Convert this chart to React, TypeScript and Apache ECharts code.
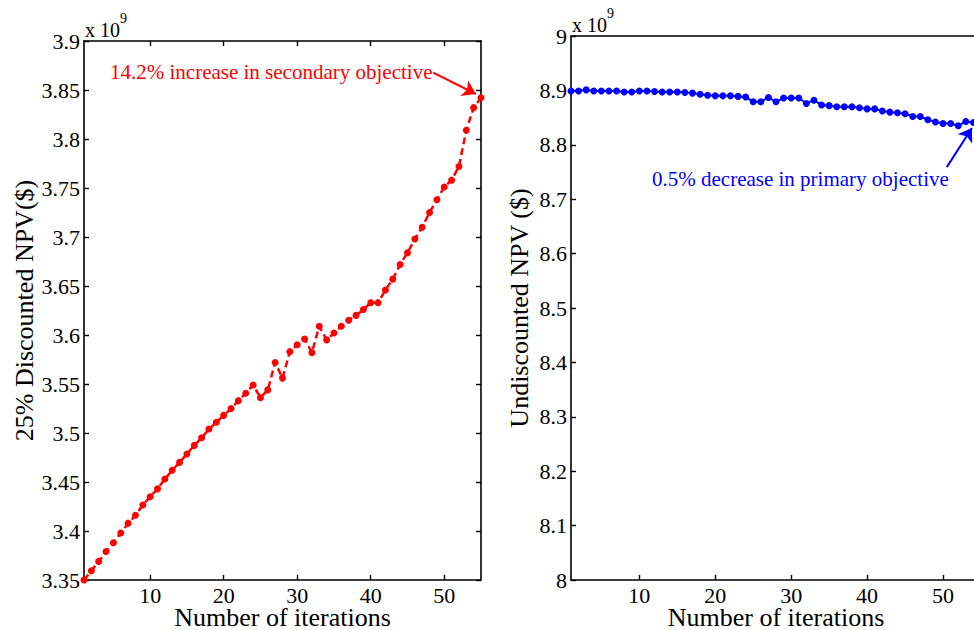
import React, { useEffect, useRef } from "react";
import * as echarts from "echarts";

// Iteration numbers (x)
const iterations = [
  1, 2, 3, 4, 5, 6, 7, 8, 9, 10, 11, 12, 13, 14, 15, 16, 17, 18, 19, 20,
  21, 22, 23, 24, 25, 26, 27, 28, 29, 30, 31, 32, 33, 34, 35, 36, 37, 38, 39, 40,
  41, 42, 43, 44, 45, 46, 47, 48, 49, 50, 51, 52, 53, 54, 55,
];

// 25% discounted NPV (x 10^9 $)
const discountedNPV = [
  3.35, 3.3595, 3.369, 3.379, 3.388, 3.398, 3.408, 3.416, 3.4265, 3.435,
  3.443, 3.453, 3.462, 3.47, 3.4786, 3.4874, 3.4952, 3.504, 3.511, 3.518,
  3.525, 3.533, 3.5405, 3.549, 3.536, 3.544, 3.572, 3.556, 3.583, 3.59,
  3.596, 3.582, 3.609, 3.595, 3.602, 3.609, 3.615, 3.62, 3.626, 3.633,
  3.633, 3.646, 3.657, 3.672, 3.684, 3.698, 3.71, 3.725, 3.738, 3.751,
  3.758, 3.772, 3.809, 3.832, 3.842,
];

// Undiscounted NPV (x 10^9 $)
const undiscountedNPV = [
  8.899, 8.899, 8.901, 8.899, 8.899, 8.899, 8.899, 8.897, 8.897, 8.899,
  8.899, 8.898, 8.897, 8.897, 8.897, 8.896, 8.895, 8.893, 8.891, 8.89,
  8.89, 8.89, 8.889, 8.888, 8.879, 8.879, 8.887, 8.879, 8.886, 8.886,
  8.886, 8.876, 8.882, 8.873, 8.872, 8.87, 8.87, 8.87, 8.868, 8.866,
  8.866, 8.862, 8.86, 8.859, 8.857, 8.852, 8.852, 8.846, 8.842, 8.839,
  8.839, 8.835, 8.843, 8.841, 8.84,
];

const xTicks = [10, 20, 30, 40, 50];

// Annotation arrows in data coordinates [x, y]
const leftArrow = [[48.5, 3.8677], [54.3, 3.8459]];
const rightArrow = [[50.5, 8.759], [53.8, 8.831]];

const FONT = "'Liberation Serif', 'Times New Roman', serif";
const RED = "#ff0000";
const BLUE = "#0000ff";

export default function App() {
  const ref = useRef<HTMLDivElement>(null);

  useEffect(() => {
    if (!ref.current) return;
    const chart = echarts.init(ref.current, undefined, { renderer: "svg" });

    const fmt = (v: number) => String(parseFloat(v.toFixed(2)));
    const axisLine = { show: true, lineStyle: { color: "#000", width: 1.6 } };
    const tick = (show = true) => ({
      show,
      inside: true,
      length: 5,
      customValues: xTicks,
      lineStyle: { color: "#000", width: 1.4 },
    });
    const yTick = { show: true, inside: true, length: 5, lineStyle: { color: "#000", width: 1.4 } };
    const labelStyle = { color: "#000", fontFamily: FONT, fontSize: 22 };
    const nameStyle = { color: "#000", fontFamily: FONT, fontSize: 26 };

    const leftPts = iterations.map((x, i) => [x, discountedNPV[i]]);
    const rightPts = iterations.map((x, i) => [x, undiscountedNPV[i]]);

    const arrowMark = (color: string, pts: number[][]) => ({
      silent: true,
      symbol: ["none", "arrow"],
      symbolSize: 13,
      lineStyle: { color, width: 2, type: "solid" },
      itemStyle: { color },
      label: { show: false },
      data: [[{ coord: pts[0] }, { coord: pts[1] }]],
    });

    const xBottom = (gridIndex: number) => ({
      gridIndex, type: "value", min: 1, max: 55, position: "bottom",
      axisLine, axisTick: tick(), splitLine: { show: false },
      axisLabel: { ...labelStyle, lineHeight: 20, margin: 5, customValues: xTicks },
      name: "Number of iterations", nameLocation: "middle", nameGap: 26,
      nameMoveOverlap: false,
      nameTextStyle: { ...nameStyle, lineHeight: 22 },
    });

    chart.setOption({
      animation: false,
      backgroundColor: "#fff",
      grid: [
        { left: 84, top: 41, width: 397, height: 539, outerBoundsMode: "none", containLabel: false },
        { left: 571, top: 36, width: 410, height: 544, outerBoundsMode: "none", containLabel: false },
      ],
      xAxis: [
        xBottom(0),
        {
          gridIndex: 0, type: "value", min: 1, max: 55, position: "top",
          axisLine, axisTick: tick(), splitLine: { show: false },
          axisLabel: { show: false },
        },
        xBottom(1),
        {
          gridIndex: 1, type: "value", min: 1, max: 55, position: "top",
          axisLine, axisTick: { show: false }, splitLine: { show: false },
          axisLabel: { show: false },
        },
      ],
      yAxis: [
        {
          gridIndex: 0, type: "value", min: 3.35, max: 3.9, interval: 0.05, position: "left",
          axisLine, axisTick: yTick, splitLine: { show: false },
          axisLabel: { ...labelStyle, margin: 4, formatter: fmt },
          name: "25% Discounted NPV($)", nameLocation: "middle", nameGap: 46,
          nameTextStyle: nameStyle,
        },
        {
          gridIndex: 0, type: "value", min: 3.35, max: 3.9, interval: 0.05, position: "right",
          axisLine, axisTick: yTick, splitLine: { show: false },
          axisLabel: { show: false },
        },
        {
          gridIndex: 1, type: "value", min: 8, max: 9, interval: 0.1, position: "left",
          axisLine, axisTick: yTick, splitLine: { show: false },
          axisLabel: { ...labelStyle, margin: 4, formatter: fmt },
          name: "Undiscounted NPV ($)", nameLocation: "middle", nameGap: 39,
          nameTextStyle: nameStyle,
        },
      ],
      series: [
        {
          type: "line", xAxisIndex: 0, yAxisIndex: 0, data: leftPts,
          symbol: "circle", symbolSize: 7, showSymbol: true,
          itemStyle: { color: RED }, lineStyle: { color: RED, width: 2.5, type: [7, 4] },
          markLine: arrowMark(RED, leftArrow),
        },
        {
          type: "line", xAxisIndex: 2, yAxisIndex: 2, data: rightPts,
          symbol: "circle", symbolSize: 7, showSymbol: true,
          itemStyle: { color: BLUE }, lineStyle: { color: BLUE, width: 2 },
          markLine: arrowMark(BLUE, rightArrow),
        },
      ],
      graphic: [
        { type: "text", left: 85, top: 20, style: { text: "x 10", fill: "#000", font: `20px ${FONT}` } },
        { type: "text", left: 120, top: 11, style: { text: "9", fill: "#000", font: `14px ${FONT}` } },
        { type: "text", left: 572, top: 15, style: { text: "x 10", fill: "#000", font: `20px ${FONT}` } },
        { type: "text", left: 607, top: 6, style: { text: "9", fill: "#000", font: `14px ${FONT}` } },
        {
          type: "text", left: 110, top: 61,
          style: { text: "14.2% increase in secondary objective", fill: RED, font: `21px ${FONT}` },
        },
        {
          type: "text", left: 652, top: 168,
          style: { text: "0.5% decrease in primary objective", fill: BLUE, font: `21px ${FONT}` },
        },
      ],
    });

    return () => chart.dispose();
  }, []);

  return (
    <div
      ref={ref}
      style={{ position: "fixed", left: 0, top: 0, width: 974, height: 630, background: "#fff" }}
    />
  );
}
